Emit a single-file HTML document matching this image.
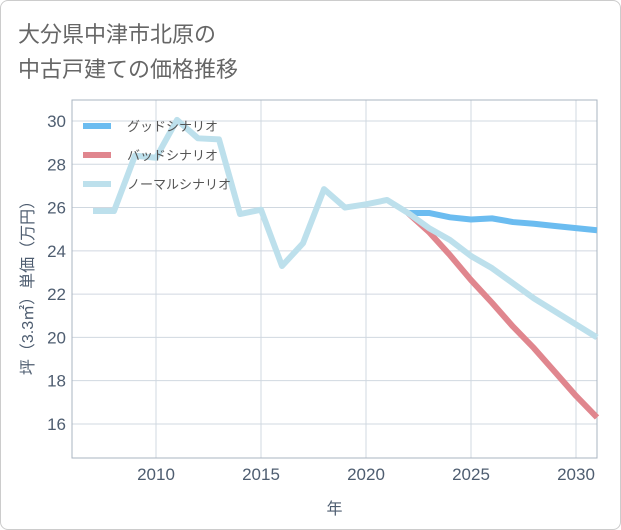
<!DOCTYPE html>
<html><head><meta charset="utf-8"><style>
body{margin:0;background:#fff;}
#wrap{position:relative;width:619px;height:528px;border:1px solid #ccc;border-radius:8px;overflow:hidden;font-family:"Liberation Sans","Noto Sans CJK JP",sans-serif;}
#title{position:absolute;left:17px;top:16px;font-size:22px;line-height:35px;color:#666;}
</style></head><body>
<div id="wrap">
<div id="title">大分県中津市北原の<br>中古戸建ての価格推移</div>
<svg id="chart" width="621" height="530" style="position:absolute;left:-1px;top:-1px"></svg>
</div>
<script>
const years=[2007,2008,2009,2010,2011,2012,2013,2014,2015,2016,2017,2018,2019,2020,2021,2022,2023,2024,2025,2026,2027,2028,2029,2030,2031];
const normal=[25.84,25.84,28.4,28.3,30.05,29.2,29.15,25.7,25.9,23.3,24.35,26.85,26.0,26.15,26.35,25.75,25.05,24.5,23.76,23.2,22.5,21.8,21.2,20.6,20.0];
const futureYears=[2022,2023,2024,2025,2026,2027,2028,2029,2030,2031];
const good=[25.75,25.75,25.55,25.45,25.5,25.33,25.25,25.15,25.05,24.95];
const bad=[25.75,24.87,23.8,22.65,21.6,20.5,19.5,18.4,17.3,16.3];
const xTicks=[2010,2015,2020,2025,2030];
const yTicks=[16,18,20,22,24,26,28,30];
const L=72,R=597,T=100,B=458;
const x=v=>L+(v-2006)*(R-L)/25;
const y=v=>121+(30-v)*21.64;
const svg=document.getElementById('chart');const NS='http://www.w3.org/2000/svg';
function mk(t,a,p){const e=document.createElementNS(NS,t);for(const k in a)e.setAttribute(k,a[k]);(p||svg).appendChild(e);return e;}
const TC='#4e5d70';
for(const t of yTicks){const l=mk('line',{x1:L,x2:R,y1:y(t),y2:y(t),stroke:'#d0d8e0','stroke-width':1});


const tx=mk('text',{x:L-6,y:y(t)+6,'text-anchor':'end','font-size':17,fill:TC});tx.textContent=t;

}
for(const t of xTicks){const l=mk('line',{x1:x(t),x2:x(t),y1:T,y2:B,stroke:'#d0d8e0','stroke-width':1});


const tx=mk('text',{x:x(t),y:B+22,'text-anchor':'middle','font-size':17,fill:TC});tx.textContent=t;

}
const fr=mk('rect',{x:L,y:T,width:R-L,height:B-T,fill:'none',stroke:'#aab4c0','stroke-width':1});


function line(xs,vs,c,n){const p=mk('polyline',{points:xs.map((v,i)=>x(v)+','+y(vs[i])).join(' '),fill:'none',stroke:c,'stroke-width':6,'stroke-linejoin':'round'});

}
line(futureYears,bad,'#e0868e','bad-scenario-line');
line(futureYears,good,'#6bbcf0','good-scenario-line');
line(years,normal,'#bde0ec','normal-scenario-line');
const leg=[['グッドシナリオ','#6bbcf0'],['バッドシナリオ','#e0868e'],['ノーマルシナリオ','#bde0ec']];
leg.forEach((d,i)=>{const ly=126+i*29;
const s=mk('line',{x1:83,x2:111,y1:ly,y2:ly,stroke:d[1],'stroke-width':6});


const t=mk('text',{x:127,y:ly+5,'font-size':13,fill:'#555'});t.textContent=d[0];

});
const xt=mk('text',{x:(L+R)/2,y:514,'text-anchor':'middle','font-size':16,fill:TC});xt.textContent='年';


const yt=mk('text',{x:0,y:0,'text-anchor':'middle','font-size':16,fill:TC,transform:'translate(33,'+((T+B)/2+5)+') rotate(-90)'});yt.textContent='坪（3.3㎡）単価（万円）';


</script>
</body></html>
